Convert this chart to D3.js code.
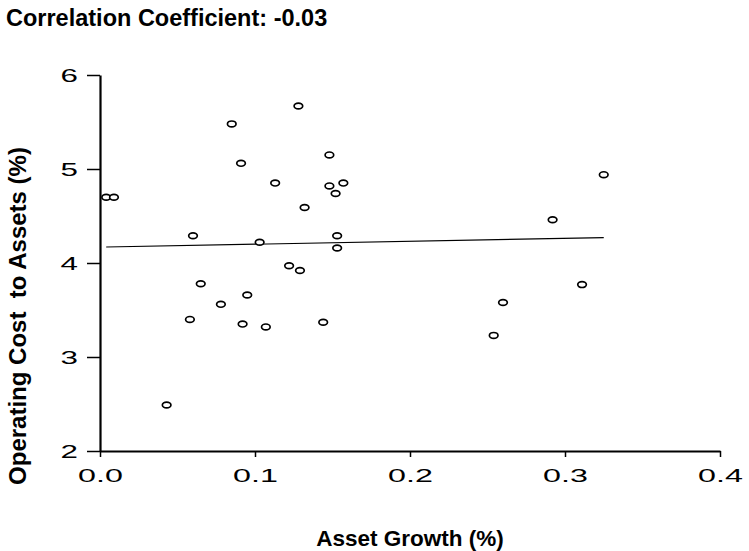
<!DOCTYPE html>
<html>
<head>
<meta charset="utf-8">
<script src="https://cdn.jsdelivr.net/npm/d3@7/dist/d3.min.js"></script>
<style>
  html, body { margin: 0; padding: 0; background: #fff; }
  svg { display: block; font-family: "Liberation Sans", Arial, Helvetica, sans-serif; }
</style>
</head>
<body>
<svg id="chart" width="749" height="551"></svg>
<script>
// Asset growth vs. operating cost to assets, one point per bank
const assetGrowth = [0.004, 0.009, 0.043, 0.058, 0.060, 0.065, 0.078, 0.085, 0.091, 0.092,
                     0.095, 0.103, 0.107, 0.113, 0.122, 0.128, 0.129, 0.132, 0.144, 0.148,
                     0.148, 0.152, 0.153, 0.153, 0.157, 0.254, 0.260, 0.292, 0.311, 0.325];
const operatingCost = [4.70, 4.70, 2.49, 3.40, 4.29, 3.78, 3.56, 5.48, 5.06, 3.35,
                       3.66, 4.22, 3.32, 4.85, 3.97, 5.67, 3.92, 4.59, 3.37, 5.15,
                       4.82, 4.74, 4.29, 4.16, 4.85, 3.23, 3.58, 4.46, 3.77, 4.94];

// Fitted line endpoints (x, y)
const fitX = [0.004, 0.325];
const fitY = [4.17, 4.27];

const xTicks = [0, 0.1, 0.2, 0.3, 0.4];
const yTicks = [2, 3, 4, 5, 6];

const titleText = "Correlation Coefficient: -0.03";
const xLabel = "Asset Growth (%)";
const yLabel = "Operating Cost  to Assets (%)";

const svg = d3.select("#chart");

const x = d3.scaleLinear().domain([0, 0.4]).range([100, 720]);
const y = d3.scaleLinear().domain([2, 6]).range([451, 75]);

// Title
svg.append("text")
  .attr("x", 6).attr("y", 26)
  .attr("font-size", 23.5).attr("font-weight", "bold")
  .attr("fill", "#000")
  .text(titleText);

// Tick labels use a wide face: regular glyphs stretched horizontally
const tickFont = 19;
const stretch = 1.65;

// Y axis
const yAxis = svg.append("g")
  .attr("transform", `translate(${x(0)},0)`)
  .call(d3.axisLeft(y).tickValues(yTicks).tickFormat(d3.format("d")).tickSize(13).tickSizeOuter(0));
yAxis.select(".domain").attr("stroke", "#000").attr("stroke-width", 2.2);
yAxis.selectAll(".tick line").attr("stroke", "#000").attr("stroke-width", 1.5);
yAxis.selectAll(".tick text")
  .attr("font-size", tickFont)
  .attr("font-family", "'Liberation Sans', Arial, sans-serif")
  .attr("fill", "#000")
  .attr("x", -22 / stretch)
  .attr("dy", "0.35em")
  .attr("transform", `scale(${stretch},1)`);

// X axis
const xAxis = svg.append("g")
  .attr("transform", `translate(0,${y(2)})`)
  .call(d3.axisBottom(x).tickValues(xTicks).tickFormat(d3.format(".1f")).tickSize(6).tickSizeOuter(0));
xAxis.select(".domain").attr("stroke", "#000").attr("stroke-width", 2.2);
xAxis.selectAll(".tick line").attr("stroke", "#000").attr("stroke-width", 1.5);
xAxis.selectAll(".tick text")
  .attr("font-size", tickFont)
  .attr("font-family", "'Liberation Sans', Arial, sans-serif")
  .attr("fill", "#000")
  .attr("y", 31).attr("dy", 0)
  .attr("transform", `scale(${stretch + 0.05},1)`);

// Fitted line
const fit = fitX.map((v, i) => [v, fitY[i]]);
svg.append("path")
  .datum(fit)
  .attr("fill", "none")
  .attr("stroke", "#000")
  .attr("stroke-width", 1.2)
  .attr("d", d3.line().x(d => x(d[0])).y(d => y(d[1])));

// Points
const points = assetGrowth.map((v, i) => ({ g: v, c: operatingCost[i] }));
svg.append("g")
  .selectAll("ellipse")
  .data(points)
  .join("ellipse")
  .attr("cx", d => x(d.g))
  .attr("cy", d => y(d.c))
  .attr("rx", 4.3)
  .attr("ry", 2.9)
  .attr("fill", "#fff")
  .attr("stroke", "#000")
  .attr("stroke-width", 1.7);

// Axis titles
svg.append("text")
  .attr("x", 410).attr("y", 546)
  .attr("text-anchor", "middle")
  .attr("font-size", 22.5).attr("font-weight", "bold")
  .attr("fill", "#000")
  .text(xLabel);

svg.append("text")
  .attr("transform", `translate(26,316) rotate(-90)`)
  .attr("text-anchor", "middle")
  .attr("font-size", 24).attr("font-weight", "bold")
  .attr("fill", "#000")
  .style("white-space", "pre")
  .text(yLabel);
</script>
</body>
</html>
